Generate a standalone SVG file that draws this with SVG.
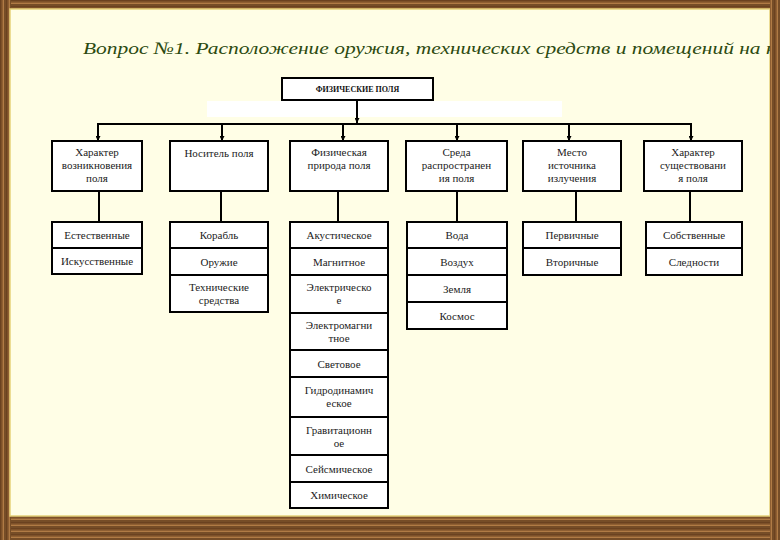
<svg xmlns="http://www.w3.org/2000/svg" width="780" height="540" viewBox="0 0 780 540">
<defs>
<pattern id="wood" width="40" height="6" patternUnits="userSpaceOnUse">
<rect width="40" height="6" fill="#8f5f32"/>
<rect y="0" width="40" height="1.5" fill="#6b4220"/>
<rect y="3" width="40" height="1" fill="#b07b45"/>
<rect y="4.5" width="40" height="1" fill="#5e3a1b"/>
</pattern>
<pattern id="woodv" width="6" height="40" patternUnits="userSpaceOnUse">
<rect width="6" height="40" fill="#8f5f32"/>
<rect x="0" width="1.5" height="40" fill="#6b4220"/>
<rect x="3" width="1" height="40" fill="#b07b45"/>
<rect x="4.5" width="1" height="40" fill="#5e3a1b"/>
</pattern>
<marker id="arr" viewBox="0 0 10 10" refX="10" refY="5" markerWidth="5" markerHeight="5" orient="auto" markerUnits="userSpaceOnUse">
<path d="M0,0 L10,5 L0,10 z" fill="#000"/>
</marker>
<style>
text{font-family:Liberation Serif, Tinos, Noto Serif, DejaVu Serif, Times New Roman, Times, serif}
.box{fill:#fff;stroke:#000;stroke-width:2}
.t{font-size:11px;fill:#222;text-anchor:middle}
.tb{font-size:8px;font-weight:bold;fill:#111;text-anchor:middle}
.ln{stroke:#000;stroke-width:2;fill:none}
.title{font-style:italic;font-size:17.5px;fill:#2c4a10}
</style>
</defs>
<rect width="780" height="540" fill="url(#wood)"/>
<rect x="0" y="0" width="11" height="540" fill="url(#woodv)"/>
<rect x="10" y="9" width="760" height="507" fill="#fffee6" stroke="#e6d27a" stroke-width="1.5"/>
<rect x="207" y="101" width="355" height="16" fill="#ffffff"/>

<text class="title" x="83" y="54" textLength="693" lengthAdjust="spacingAndGlyphs">Вопрос  №1. Расположение оружия, технических средств и помещений на к</text>
<rect x="770" y="0" width="10" height="540" fill="url(#woodv)"/>

<g id="connectors">
<line class="ln" x1="357" y1="100" x2="357" y2="123" marker-end="url(#arr)"/>
<line class="ln" x1="97" y1="124" x2="692" y2="124"/>
<line class="ln" x1="98" y1="124" x2="98" y2="141" marker-end="url(#arr)"/>
<line class="ln" x1="222" y1="124" x2="222" y2="141" marker-end="url(#arr)"/>
<line class="ln" x1="343" y1="124" x2="343" y2="141" marker-end="url(#arr)"/>
<line class="ln" x1="457" y1="124" x2="457" y2="141" marker-end="url(#arr)"/>
<line class="ln" x1="569" y1="124" x2="569" y2="141" marker-end="url(#arr)"/>
<line class="ln" x1="691" y1="124" x2="691" y2="141" marker-end="url(#arr)"/>
<line class="ln" x1="99" y1="191" x2="99" y2="222"/>
<line class="ln" x1="221" y1="191" x2="221" y2="222"/>
<line class="ln" x1="338" y1="191" x2="338" y2="222"/>
<line class="ln" x1="457" y1="191" x2="457" y2="222"/>
<line class="ln" x1="576" y1="191" x2="576" y2="222"/>
<line class="ln" x1="690" y1="191" x2="690" y2="222"/>
</g>

<g id="root">
<rect class="box" x="282" y="78" width="151" height="22"/>
<text class="tb" x="357.5" y="92">ФИЗИЧЕСКИЕ ПОЛЯ</text>
</g>

<g id="h1">
<rect class="box" x="52" y="141" width="90" height="50"/>
<text class="t" x="97" y="156">Характер</text>
<text class="t" x="97" y="169">возникновения</text>
<text class="t" x="97" y="182">поля</text>
</g>
<g id="h2">
<rect class="box" x="170" y="141" width="98" height="50"/>
<text class="t" x="219" y="157">Носитель поля</text>
</g>
<g id="h3">
<rect class="box" x="290" y="141" width="98" height="50"/>
<text class="t" x="339" y="156">Физическая</text>
<text class="t" x="339" y="169">природа поля</text>
</g>
<g id="h4">
<rect class="box" x="406" y="141" width="101" height="50"/>
<text class="t" x="456.5" y="156">Среда</text>
<text class="t" x="456.5" y="169">распространен</text>
<text class="t" x="456.5" y="182">ия поля</text>
</g>
<g id="h5">
<rect class="box" x="523" y="141" width="98" height="50"/>
<text class="t" x="572" y="156">Место</text>
<text class="t" x="572" y="169">источника</text>
<text class="t" x="572" y="182">излучения</text>
</g>
<g id="h6">
<rect class="box" x="644" y="141" width="98" height="50"/>
<text class="t" x="693" y="156">Характер</text>
<text class="t" x="693" y="169">существовани</text>
<text class="t" x="693" y="182">я поля</text>
</g>

<g id="c1">
<rect class="box" x="52" y="222" width="90" height="26"/>
<text class="t" x="97" y="239">Естественные</text>
<rect class="box" x="52" y="248" width="90" height="26"/>
<text class="t" x="97" y="265">Искусственные</text>
</g>

<g id="c2">
<rect class="box" x="170" y="222" width="98" height="26"/>
<text class="t" x="219" y="239">Корабль</text>
<rect class="box" x="170" y="248" width="98" height="27"/>
<text class="t" x="219" y="266">Оружие</text>
<rect class="box" x="170" y="275" width="98" height="37"/>
<text class="t" x="219" y="291">Технические</text>
<text class="t" x="219" y="304">средства</text>
</g>

<g id="c3">
<rect class="box" x="290" y="222" width="98" height="26"/>
<text class="t" x="339" y="239">Акустическое</text>
<rect class="box" x="290" y="248" width="98" height="27"/>
<text class="t" x="339" y="266">Магнитное</text>
<rect class="box" x="290" y="275" width="98" height="38"/>
<text class="t" x="339" y="291">Электрическо</text>
<text class="t" x="339" y="304">е</text>
<rect class="box" x="290" y="313" width="98" height="37"/>
<text class="t" x="339" y="329">Электромагни</text>
<text class="t" x="339" y="342">тное</text>
<rect class="box" x="290" y="350" width="98" height="27"/>
<text class="t" x="339" y="368">Световое</text>
<rect class="box" x="290" y="377" width="98" height="40"/>
<text class="t" x="339" y="394">Гидродинамич</text>
<text class="t" x="339" y="407">еское</text>
<rect class="box" x="290" y="417" width="98" height="38"/>
<text class="t" x="339" y="434">Гравитационн</text>
<text class="t" x="339" y="447">ое</text>
<rect class="box" x="290" y="455" width="98" height="27"/>
<text class="t" x="339" y="473">Сейсмическое</text>
<rect class="box" x="290" y="482" width="98" height="26"/>
<text class="t" x="339" y="499">Химическое</text>
</g>

<g id="c4">
<rect class="box" x="407" y="222" width="100" height="26"/>
<text class="t" x="457" y="239">Вода</text>
<rect class="box" x="407" y="248" width="100" height="27"/>
<text class="t" x="457" y="266">Воздух</text>
<rect class="box" x="407" y="275" width="100" height="27"/>
<text class="t" x="457" y="293">Земля</text>
<rect class="box" x="407" y="302" width="100" height="27"/>
<text class="t" x="457" y="320">Космос</text>
</g>

<g id="c5">
<rect class="box" x="523" y="222" width="98" height="26"/>
<text class="t" x="572" y="239">Первичные</text>
<rect class="box" x="523" y="248" width="98" height="27"/>
<text class="t" x="572" y="266">Вторичные</text>
</g>

<g id="c6">
<rect class="box" x="646" y="222" width="96" height="26"/>
<text class="t" x="694" y="239">Собственные</text>
<rect class="box" x="646" y="248" width="96" height="27"/>
<text class="t" x="694" y="266">Следности</text>
</g>
</svg>
